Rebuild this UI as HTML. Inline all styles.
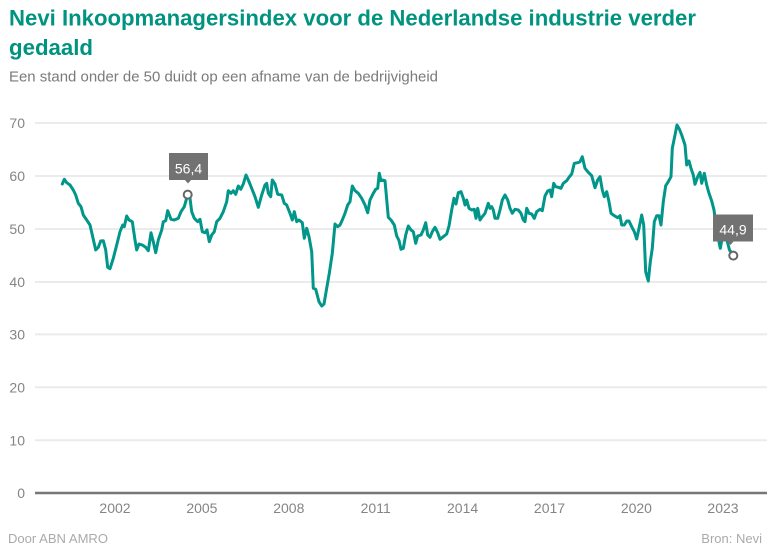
<!DOCTYPE html>
<html>
<head>
<meta charset="utf-8">
<style>
  html, body { margin:0; padding:0; background:#ffffff; }
  svg { display:block; }
  text { font-family: "Liberation Sans", Arial, sans-serif; }
</style>
</head>
<body>
<svg width="776" height="555" viewBox="0 0 776 555" xmlns="http://www.w3.org/2000/svg">
  <rect x="0" y="0" width="776" height="555" fill="#ffffff"/>

  <!-- Title -->
  <text x="9" y="25.5" font-size="22" font-weight="bold" fill="#00937f" textLength="687" lengthAdjust="spacingAndGlyphs">Nevi Inkoopmanagersindex voor de Nederlandse industrie verder</text>
  <text x="9" y="55" font-size="22" font-weight="bold" fill="#00937f" textLength="84" lengthAdjust="spacingAndGlyphs">gedaald</text>
  <text x="9" y="81.5" font-size="15" fill="#7a7a7a" textLength="429" lengthAdjust="spacingAndGlyphs">Een stand onder de 50 duidt op een afname van de bedrijvigheid</text>

  <!-- Gridlines -->
  <g stroke="#ebebeb" stroke-width="2">
    <line x1="35" y1="123" x2="767" y2="123"/>
    <line x1="35" y1="176" x2="767" y2="176"/>
    <line x1="35" y1="229" x2="767" y2="229"/>
    <line x1="35" y1="282" x2="767" y2="282"/>
    <line x1="35" y1="334.4" x2="767" y2="334.4"/>
    <line x1="35" y1="387.3" x2="767" y2="387.3"/>
    <line x1="35" y1="440.2" x2="767" y2="440.2"/>
  </g>
  <line x1="35" y1="493" x2="767" y2="493" stroke="#777777" stroke-width="2.5"/>

  <!-- Y labels -->
  <g font-size="14" fill="#858585" text-anchor="end">
    <text x="25" y="128">70</text>
    <text x="25" y="181">60</text>
    <text x="25" y="234">50</text>
    <text x="25" y="287">40</text>
    <text x="25" y="339.5">30</text>
    <text x="25" y="392.5">20</text>
    <text x="25" y="445.5">10</text>
    <text x="25" y="498">0</text>
  </g>

  <!-- X labels -->
  <g font-size="14" fill="#858585" text-anchor="middle">
    <text x="115" y="513">2002</text>
    <text x="201.9" y="513">2005</text>
    <text x="288.8" y="513">2008</text>
    <text x="375.7" y="513">2011</text>
    <text x="462.6" y="513">2014</text>
    <text x="549.5" y="513">2017</text>
    <text x="636.4" y="513">2020</text>
    <text x="723" y="513">2023</text>
  </g>

  <!-- Series -->
  <polyline fill="none" stroke="#00968a" stroke-width="3" stroke-linejoin="round" stroke-linecap="round"
    points="62.3,184 64.3,179.3 66.7,182.7 70,185 73.3,190 75.7,195 78.3,203.3 81,206.7 83.3,215 86.7,220 90,225 92.3,235 95.7,250 98.3,247.3 100.7,241 103.3,240.7 105.7,250 107.7,267.3 110,268.7 113.3,258.3 116.7,245 120,231.7 122.7,225 124.3,226.7 126.7,216 129,220 132.3,221.7 135,240 136.7,250 139,244 142.3,245 145.7,247.3 148.3,250.7 151,232.7 153.3,241.7 155.7,252.7 158.3,240 161.7,230 163.3,221.7 165.7,220.7 167.7,210.7 171,219.3 174.3,220 178.3,218.3 181,211.7 184.3,206.7 187.7,194.7 190,198.3 191.7,211.7 194.3,218.3 197.7,221.7 200,219.3 202.3,231.7 205,232.7 207,230 209.3,241.7 211.7,235 214.3,231.7 216.7,221.7 220,218.3 223.3,211.7 226.7,201.7 228.3,190.7 231,193.3 233.3,190.7 235.7,194.3 238.3,186 240.7,189.3 243.3,184 246,175 248.3,180 251.7,188.3 255,196.7 258.3,207.3 261.7,195 265,185 266.7,183.3 268.3,193.3 270.7,196.7 272.3,180 275,184 277.7,194.3 281.7,195 284.3,203.3 286.7,205 290,213.3 292.3,220 294.3,211.7 296.7,221.7 299,220 302.3,222.7 304.3,238.3 306.7,228.3 309,236.7 311.7,251.7 313.3,288.3 315.7,289.3 319,301.7 321.7,306 324,304 326.7,288.3 329.3,273.3 332.3,253.3 335,224 337.7,226.7 340,225 342.3,220 345,213.3 347.7,205 350,201.7 352.3,186 355,190.7 358.3,193.3 361.7,198.3 365,205 367.7,212.7 370,200 373.3,193.3 375.7,189.3 377.7,188.3 379.3,173.3 381,180.7 382.7,180 385,180.7 388.3,217.3 391,220 394.3,225 396.7,236 399,240.5 401,249.3 403.3,248.3 405.7,235 408.3,226 411,230 413.3,231.7 415.7,243.3 417.7,236 421,235 423.3,230 425.7,222.7 427.7,235 430,237.3 432.3,231.7 435,227.3 437.7,232.7 440,239.3 443.3,236.7 446.7,234 449,226 451.7,210 454,198.3 456,204 458.3,192.7 461,191.7 463.3,198.3 465,205 466.7,200 469,208.3 471.7,210 474.3,209.3 476,218.3 477.7,208.3 480,220 482.3,216.7 485,213.3 488.3,203.3 490,208.3 491.7,206.7 493.3,210 495,218.3 497.7,218.3 500,210 502.3,200 505,195 507.7,200 510,208.3 512.3,213.3 515,209.3 518.3,210 521,213.3 523.3,220 525,221.7 526.7,208.3 529,213.3 531.7,214 534.3,218.3 536.7,211.7 540,209.3 542.3,210.7 545,196 547.7,191 550,190 551.7,196.7 553.7,183.3 555.7,186.7 558.3,187.3 561,188.3 563.3,183.3 566.7,180.7 569,177.3 571.7,174 574.3,163.3 577.7,162.7 580,161.7 582.3,156.7 585,168.3 588.3,172.3 591.7,175.7 595,187.7 597.7,180 600,176.7 602.3,190 604.3,196.7 606.7,191.7 609,201.7 611,213.3 614.3,215.7 617.7,217.7 620,215.7 621.7,225 624.3,225 626.7,221 629,221 631.7,226.7 634.3,231.7 636.7,239 639,228.3 641.7,215 643.7,225 645.7,271.7 648.3,281 650.3,261.7 652.3,248.3 654.3,221.7 656.7,215.7 659,215.7 661,225 663.3,201.7 665.7,185.7 668.3,181.7 671,176.7 672.3,148.3 675,135 677,125 679.3,129 681.7,135 685,145 686.7,165 689,161 691,168.3 693.3,175 695,184.3 697.7,176.7 700,172.3 701.7,183.3 704.3,173.3 706.7,185 709,193.3 711.7,201 714,210 716,225 718.3,238.3 720.3,248.3 723.3,232 725.7,236 727.7,243 729.5,250 733.3,255.5"/>

  <!-- Annotation 56,4 -->
  <rect x="169" y="153" width="39" height="27" fill="#727272"/>
  <polygon points="184.5,179.5 191.5,179.5 188,183.5" fill="#727272"/>
  <text x="188.5" y="173.5" font-size="14" fill="#ffffff" text-anchor="middle">56,4</text>
  <circle cx="187.7" cy="194.6" r="4" fill="#ffffff" stroke="#666666" stroke-width="2"/>

  <!-- Annotation 44,9 -->
  <rect x="713" y="214.5" width="40" height="27" fill="#727272"/>
  <polygon points="727,241 734,241 730.5,245" fill="#727272"/>
  <text x="733" y="234.5" font-size="14" fill="#ffffff" text-anchor="middle">44,9</text>
  <circle cx="733.3" cy="255.6" r="4" fill="#ffffff" stroke="#666666" stroke-width="2"/>

  <!-- Footer -->
  <text x="8" y="543" font-size="13" fill="#aaaaaa" textLength="100" lengthAdjust="spacingAndGlyphs">Door ABN AMRO</text>
  <text x="762" y="543" font-size="13" fill="#aaaaaa" text-anchor="end">Bron: Nevi</text>
</svg>
</body>
</html>
